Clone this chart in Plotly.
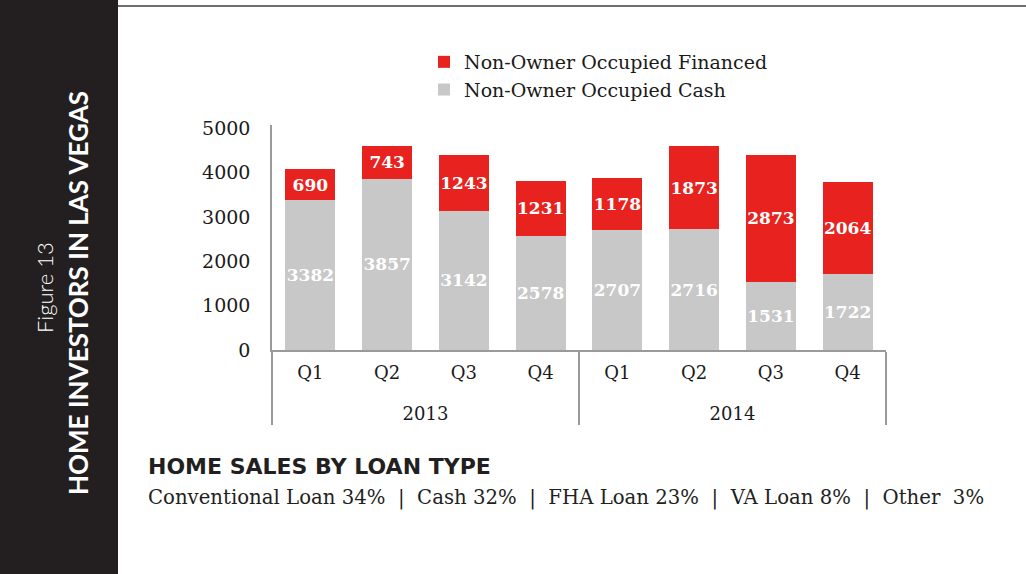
import plotly.graph_objects as go

years = ["2013"] * 4 + ["2014"] * 4
quarters = ["Q1", "Q2", "Q3", "Q4"] * 2
cash = [3382, 3857, 3142, 2578, 2707, 2716, 1531, 1722]
financed = [690, 743, 1243, 1231, 1178, 1873, 2873, 2064]
y_ticks = [0, 1000, 2000, 3000, 4000, 5000]
loan_text = "Conventional Loan 34%  |  Cash 32%  |  FHA Loan 23%  |  VA Loan 8%  |  Other  3%"

W, H = 1026, 574
L, R, T, B = 272, 886, 125, 350


def px(x):
    return (x - L) / (R - L)


def py(y):
    return (B - y) / (B - T)


SERIF = "DejaVu Serif"
RED = "#e8231f"
GRAY = "#c8c8c8"

year_labels = ["<br>" + y for y in years]

fig = go.Figure()
fig.add_trace(go.Bar(
    x=[year_labels, quarters], y=cash, name="Non-Owner Occupied Cash",
    marker=dict(color=GRAY, line=dict(width=0)),
    text=[str(v) for v in cash], textposition="inside", insidetextanchor="middle",
    textangle=0,
    textfont=dict(family=SERIF, size=17, color="white", weight="bold"),
))
fig.add_trace(go.Bar(
    x=[year_labels, quarters], y=financed, name="Non-Owner Occupied Financed",
    marker=dict(color=RED, line=dict(width=0)),
    text=[str(v) for v in financed], textposition="inside", insidetextanchor="middle",
    textangle=0,
    textfont=dict(family=SERIF, size=17, color="white", weight="bold"),
))

fig.update_layout(
    width=W, height=H,
    barmode="stack", bargap=0.35,
    paper_bgcolor="white", plot_bgcolor="white",
    margin=dict(l=L, r=W - R, t=T, b=H - B, autoexpand=False),
    uniformtext=dict(mode="show", minsize=17),
    legend=dict(
        x=px(424), y=py(43), xanchor="left", yanchor="top",
        font=dict(family=SERIF, size=19, color="#1a1a1a"),
        bgcolor="rgba(0,0,0,0)", tracegroupgap=0, itemwidth=30,
        traceorder="reversed",
    ),
    font=dict(family=SERIF, color="#1a1a1a"),
    showlegend=True,
)
fig.update_xaxes(
    type="multicategory", showline=True, linecolor="#9a9a9a", linewidth=1.5,
    showdividers=True, dividercolor="#9a9a9a", dividerwidth=1.5,
    tickfont=dict(family=SERIF, size=18, color="#1a1a1a"), ticks="",
    showgrid=False, ticklabelstandoff=6,
)
fig.update_yaxes(
    range=[0, 5070], tickvals=y_ticks, showline=True, linecolor="#9a9a9a", linewidth=1.5,
    showgrid=False, zeroline=False, ticks="",
    tickfont=dict(family=SERIF, size=19, color="#1a1a1a"), ticklabelstandoff=16,
)

# Sidebar and top rule
fig.add_shape(type="rect", xref="paper", yref="paper",
              x0=px(-5), x1=px(118), y0=py(H + 5), y1=py(-5),
              fillcolor="#231f20", line=dict(width=0), layer="below")
fig.add_shape(type="line", xref="paper", yref="paper",
              x0=px(118), x1=px(W + 5), y0=py(6), y1=py(6),
              line=dict(color="#6e6e6e", width=2))

fig.add_annotation(xref="paper", yref="paper", x=px(44), y=py(288),
                   text="Figure 13", textangle=-90, showarrow=False,
                   font=dict(family="Lato", size=22, color="white", weight=300),
                   xanchor="center", yanchor="middle")
fig.add_annotation(xref="paper", yref="paper", x=px(78), y=py(293),
                   text="<b>HOME INVESTORS IN LAS VEGAS</b>", textangle=-90, showarrow=False,
                   font=dict(family="Lato", size=26, color="white"),
                   xanchor="center", yanchor="middle")

fig.add_annotation(xref="paper", yref="paper", x=px(146), y=py(466),
                   text="<b>HOME SALES BY LOAN TYPE</b>", showarrow=False,
                   font=dict(family="DejaVu Sans", size=22, color="#231f20"),
                   xanchor="left", yanchor="middle")
fig.add_annotation(xref="paper", yref="paper", x=px(146), y=py(498),
                   text=loan_text, showarrow=False,
                   font=dict(family=SERIF, size=19.7, color="#231f20"),
                   xanchor="left", yanchor="middle")

fig.write_html("out.html", config={"displayModeBar": False},
               post_script="document.body.style.margin='0';")
